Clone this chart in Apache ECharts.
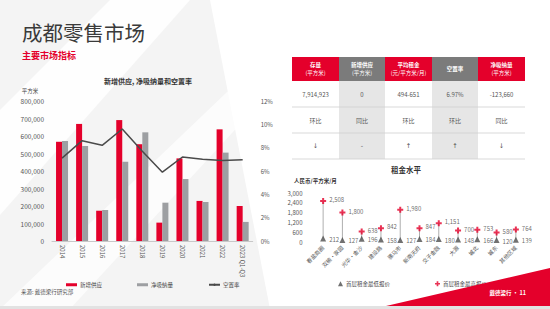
<!DOCTYPE html>
<html><head><meta charset="utf-8">
<script src="https://cdn.jsdelivr.net/npm/echarts@6/dist/echarts.min.js"></script>
<style>html,body{margin:0;padding:0;background:#fff}#c{width:550px;height:309px}</style>
</head><body><div id="c"></div>
<script>
const years = ['2014','2015','2016','2017','2018','2019','2020','2021','2022','2023 Q1-Q3'];
const newSupply = [567000, 669000, 173000, 691000, 553000, 105000, 472000, 229000, 638000, 200000];
const netAbsorption = [571000, 543000, 177000, 453000, 621000, 219000, 354000, 223000, 505000, 109000];
const vacancy = [7.1, 8.6, 8.2, 9.6, 7.7, 5.9, 7.2, 7.0, 6.9, 6.97];
const leftTicks = {min: 0, max: 800000, interval: 100000};
const rightTicks = {min: 0, max: 12, interval: 2};

const districts = ['春盐商圈','双楠·家园','光华·金沙','建设路','骡马市','新南天府','交子金融','大源','城北','城东','其他区域'];
const rentHigh = [2508, 1800, 638, 842, 1980, 847, 1151, 700, 753, 580, 764];
const rentLow = [212, 127, 196, 158, 127, 184, 180, 148, 166, 120, 139];
const rentTicks = {min: 0, max: 3000, interval: 600};

const tableHeaders = [['存量','(平方米)'],['新增供应','(平方米)'],['平均租金','(元/平方米/月)'],['空置率',''],['净吸纳量','(平方米)']];
const tableValues = ['7,914,923','0','494-651','6.97%','-123,660'];
const tableCompare = ['环比','同比','环比','环比','同比'];
const tableTrend = ['↓','-','↑','↑','↓'];

const RED = '#e4002b', GREY = '#9d9fa2';
const FONT = '"Noto Sans CJK SC", "Noto Sans", sans-serif';
const fmt = v => Number(v).toLocaleString('en-US');

const chart = echarts.init(document.getElementById('c'), null, {renderer: 'svg'});

const colEdges = [292, 339, 385, 432, 478, 525];
const tbl = [];
for (let i = 0; i < 5; i++) {
  const x0 = colEdges[i], w = colEdges[i+1] - colEdges[i], cx = x0 + w / 2;
  const grey = i % 2 === 1;
  tbl.push({type:'rect', shape:{x:x0, y:57, width:w, height:24}, style:{fill: grey ? '#7b7b7b' : RED}});
  if (grey) tbl.push({type:'rect', shape:{x:x0, y:81, width:w, height:78}, style:{fill:'#e6e6e6'}});
  const h = tableHeaders[i];
  tbl.push({type:'text', x:cx, y:69, style:{
    text: h[1] ? '{b|' + h[0] + '}\n{n|' + h[1] + '}' : '{b|' + h[0] + '}',
    rich:{b:{fontSize:5.5, fontWeight:'bold', fill:'#fff', fontFamily:FONT, lineHeight:8},
          n:{fontSize:5.5, fill:'#fff', fontFamily:FONT, lineHeight:8}},
    align:'center', verticalAlign:'middle'}});
  tbl.push({type:'text', x:cx, y:94, style:{text:tableValues[i], fontSize:6, fill:'#555', fontFamily:FONT, align:'center', verticalAlign:'middle'}});
  tbl.push({type:'text', x:cx, y:120, style:{text:tableCompare[i], fontSize:6, fill:'#555', fontFamily:FONT, align:'center', verticalAlign:'middle'}});
  tbl.push({type:'text', x:cx, y:146, style:{text:tableTrend[i], fontSize:6.5, fill:'#555', fontFamily:'"DejaVu Sans", sans-serif', align:'center', verticalAlign:'middle'}});
}
[107, 133, 159].forEach(y => tbl.push({type:'line', shape:{x1:292, y1:y, x2:525, y2:y}, style:{stroke:'#cfcfcf', lineWidth:0.8}}));

const option = {
  backgroundColor: '#f4f4f4',
  animation: false,
  textStyle: {fontFamily: FONT},
  graphic: [
    {type:'polygon', shape:{points:[[0,110],[110,0],[190,0],[0,215]]}, style:{fill:'rgba(255,255,255,0.85)'}, silent:true, z:-10},
    {type:'polygon', shape:{points:[[0,309],[250,70],[290,70],[70,309]]}, style:{fill:'rgba(255,255,255,0.7)'}, silent:true, z:-10},
    {type:'polygon', shape:{points:[[210,0],[550,0],[550,309],[270,309]]}, style:{fill:'#ffffff'}, silent:true, z:-10},
    {type:'text', x:22, y:32, style:{text:'成都零售市场', fontSize:20.5, fill:'#3a3a3a', fontFamily:FONT, verticalAlign:'middle'}},
    {type:'text', x:22, y:55, style:{text:'主要市场指标', fontSize:9, fontWeight:'bold', fill:RED, fontFamily:FONT, verticalAlign:'middle'}},
    {type:'text', x:148, y:81, style:{text:'新增供应, 净吸纳量和空置率', fontSize:7, fontWeight:'bold', fill:'#333', fontFamily:FONT, align:'center', verticalAlign:'middle'}},
    {type:'text', x:30, y:91, style:{text:'平方米', fontSize:5.5, fill:'#444', fontFamily:FONT, align:'center', verticalAlign:'middle'}},
    {type:'text', x:21, y:292, style:{text:'来源: 戴德梁行研究部', fontSize:5.5, fill:'#555', fontFamily:FONT, verticalAlign:'middle'}},
    {type:'text', x:406, y:169, style:{text:'租金水平', fontSize:7.5, fontWeight:'bold', fill:'#333', fontFamily:FONT, align:'center', verticalAlign:'middle'}},
    {type:'text', x:294, y:181, style:{text:'人民币/平方米/月', fontSize:5.5, fontWeight:'bold', fill:'#333', fontFamily:FONT, verticalAlign:'middle'}},
    {type:'polygon', shape:{points:[[386,306],[550,268],[550,306]]}, style:{fill:RED}, z:5},
    {type:'rect', shape:{x:0, y:306, width:550, height:3}, style:{fill:'#e2e2e2'}, z:5},
    {type:'text', x:526, y:293, style:{text:'戴德梁行 · 11', fontSize:5.5, fontWeight:'bold', fill:'#fff', fontFamily:FONT, align:'right', verticalAlign:'middle'}, z:6},
    ...tbl
  ],
  legend: [
    {left:61, top:277, itemWidth:11, itemHeight:3, itemGap:35,
     textStyle:{fontSize:5.5, color:'#444', fontFamily:FONT, padding:[0,0,0,-2]},
     data:[{name:'新增供应', icon:'rect'},{name:'净吸纳量', icon:'rect'},{name:'空置率'}]},
    {left:333, top:276, itemWidth:5, itemHeight:5, itemGap:45,
     textStyle:{fontSize:5.5, color:'#444', fontFamily:FONT, padding:[0,0,0,-2]},
     data:['首层租金最低报价','首层租金最高报价']}
  ],
  grid: [
    {left:52, top:101, width:200.7, height:140},
    {left:313.5, top:193, width:212, height:49}
  ],
  xAxis: [
    {type:'category', gridIndex:0, data:years,
     axisLine:{lineStyle:{color:'#c8c8c8'}}, axisTick:{show:false},
     axisLabel:{rotate:-90, fontSize:6, color:'#555', margin:4, interval:0, fontFamily:FONT}},
    {type:'category', gridIndex:1, data:districts,
     axisLine:{show:false}, axisTick:{show:false},
     axisLabel:{rotate:45, fontSize:5.5, color:'#555', margin:5, interval:0, fontFamily:FONT}}
  ],
  yAxis: [
    {type:'value', gridIndex:0, min:leftTicks.min, max:leftTicks.max, interval:leftTicks.interval,
     splitLine:{show:false}, axisLine:{show:false}, axisTick:{show:false},
     axisLabel:{fontSize:6.5, color:'#555', margin:8, formatter:v=>fmt(v), fontFamily:FONT}},
    {type:'value', gridIndex:0, position:'right', min:rightTicks.min, max:rightTicks.max, interval:rightTicks.interval,
     splitLine:{show:false}, axisLine:{show:false}, axisTick:{show:false},
     axisLabel:{fontSize:6, color:'#555', margin:8, formatter:'{value}%', fontFamily:FONT}},
    {type:'value', gridIndex:1, min:rentTicks.min, max:rentTicks.max, interval:rentTicks.interval,
     splitLine:{show:false}, axisLine:{show:false}, axisTick:{show:false},
     axisLabel:{fontSize:6, color:'#555', margin:11, formatter:v=>fmt(v), fontFamily:FONT}}
  ],
  series: [
    {name:'新增供应', type:'bar', xAxisIndex:0, yAxisIndex:0, data:newSupply, barWidth:6, barGap:'0%', itemStyle:{color:RED}},
    {name:'净吸纳量', type:'bar', xAxisIndex:0, yAxisIndex:0, data:netAbsorption, barWidth:6, barGap:'0%', itemStyle:{color:GREY}},
    {name:'空置率', type:'line', xAxisIndex:0, yAxisIndex:1, data:vacancy, symbol:'none', lineStyle:{color:'#4a4a4a', width:1.5}, itemStyle:{color:'#4a4a4a'}},
    {name:'range', type:'custom', xAxisIndex:1, yAxisIndex:2,
     data: districts.map((d, i) => [i, rentLow[i], rentHigh[i]]),
     encode:{x:0, y:[1,2]},
     renderItem:(params, api) => {
       const p1 = api.coord([api.value(0), api.value(1)]);
       const p2 = api.coord([api.value(0), api.value(2)]);
       return {type:'line', shape:{x1:p1[0], y1:p1[1], x2:p2[0], y2:p2[1]}, style:{stroke:'#9a9a9a', lineWidth:0.8}};
     }},
    {name:'首层租金最低报价', type:'scatter', xAxisIndex:1, yAxisIndex:2, data:rentLow, symbol:'triangle', symbolSize:6,
     itemStyle:{color:'#4d4d4d'}, z:3,
     label:{show:true, position:'right', distance:3, offset:[0,1], fontSize:6, lineHeight:6, color:'#444', formatter:p=>fmt(p.value), fontFamily:FONT}},
    {name:'首层租金最高报价', type:'scatter', xAxisIndex:1, yAxisIndex:2, data:rentHigh,
     symbol:'path://M2,0h2v2h2v2h-2v2h-2v-2h-2v-2h2z', symbolSize:6,
     itemStyle:{color:RED}, z:3,
     label:{show:true, position:'right', distance:3, offset:[0,-1.5], fontSize:6, lineHeight:6, color:'#444', formatter:p=>fmt(p.value), fontFamily:FONT}}
  ]
};
chart.setOption(option);
</script></body></html>
